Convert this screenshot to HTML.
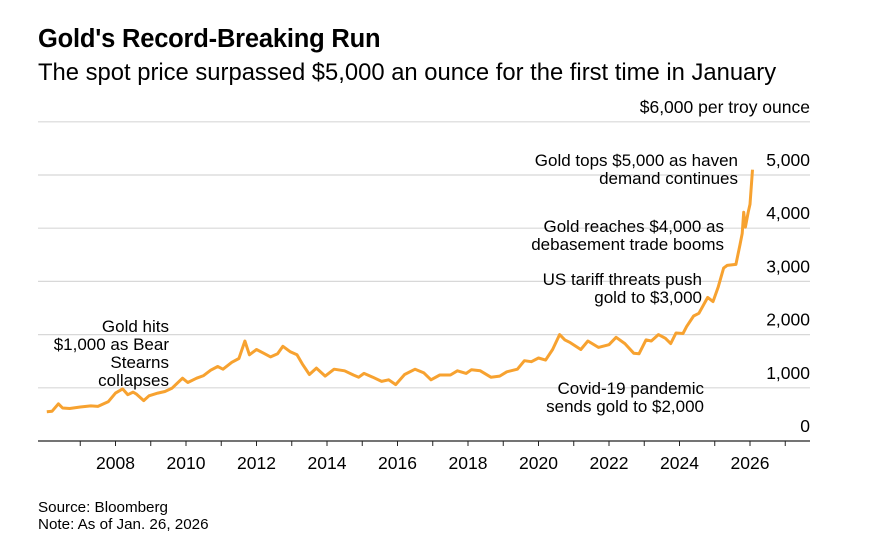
<!DOCTYPE html>
<html><head><meta charset="utf-8"><style>
body{margin:0;width:880px;height:554px;background:#fff;font-family:"Liberation Sans",sans-serif;overflow:hidden}
</style></head><body>
<svg width="880" height="554" style="position:absolute;left:0;top:0">
<text x="38" y="47" font-size="25.5" font-weight="bold" letter-spacing="-0.2" fill="#000">Gold's Record-Breaking Run</text>
<text x="38" y="80" font-size="23.8" fill="#000">The spot price surpassed $5,000 an ounce for the first time in January</text>
<g id="grid"></g>
<g id="xaxis"></g>
<path id="line" fill="none" stroke="#f7a230" stroke-width="3" stroke-linejoin="round"/>
<g font-size="17" fill="#000" text-anchor="end">
<text x="738" y="166"><tspan x="738">Gold tops $5,000 as haven</tspan><tspan x="738" dy="18">demand continues</tspan></text>
<text x="724" y="232"><tspan x="724">Gold reaches $4,000 as</tspan><tspan x="724" dy="18">debasement trade booms</tspan></text>
<text x="702" y="285"><tspan x="702">US tariff threats push</tspan><tspan x="702" dy="18">gold to $3,000</tspan></text>
<text x="704" y="394"><tspan x="704">Covid-19 pandemic</tspan><tspan x="704" dy="18">sends gold to $2,000</tspan></text>
<text x="169" y="332"><tspan x="169">Gold hits</tspan><tspan x="169" dy="18">$1,000 as Bear</tspan><tspan x="169" dy="18">Stearns</tspan><tspan x="169" dy="18">collapses</tspan></text>
</g>
<text x="38" y="512" font-size="15.2" fill="#000">Source: Bloomberg</text>
<text x="38" y="529" font-size="15.2" fill="#000">Note: As of Jan. 26, 2026</text>
</svg>
<script>
const years=[2006.05,2006.2,2006.38,2006.5,2006.7,2007.0,2007.3,2007.5,2007.8,2008.0,2008.2,2008.35,2008.5,2008.6,2008.8,2008.95,2009.2,2009.4,2009.6,2009.9,2010.05,2010.3,2010.5,2010.7,2010.9,2011.05,2011.3,2011.5,2011.67,2011.8,2012.0,2012.2,2012.4,2012.6,2012.75,2012.95,2013.15,2013.3,2013.5,2013.7,2013.95,2014.2,2014.5,2014.75,2014.9,2015.05,2015.3,2015.55,2015.75,2015.95,2016.2,2016.5,2016.75,2016.95,2017.2,2017.5,2017.7,2017.95,2018.1,2018.35,2018.65,2018.9,2019.1,2019.4,2019.6,2019.8,2020.0,2020.2,2020.4,2020.6,2020.75,2020.9,2021.2,2021.4,2021.7,2022.0,2022.2,2022.45,2022.7,2022.85,2023.05,2023.2,2023.4,2023.6,2023.75,2023.9,2024.1,2024.2,2024.4,2024.55,2024.8,2024.95,2025.1,2025.25,2025.35,2025.6,2025.72,2025.78,2025.82,2025.87,2025.95,2026.0,2026.07];
const prices=[550,560,700,620,610,640,660,650,740,900,980,870,920,880,760,850,900,930,990,1180,1100,1180,1230,1330,1400,1350,1480,1550,1880,1620,1720,1650,1580,1640,1780,1680,1620,1450,1250,1370,1220,1350,1320,1240,1200,1270,1200,1120,1150,1060,1250,1350,1280,1150,1240,1240,1320,1270,1340,1320,1200,1220,1300,1350,1510,1490,1560,1520,1720,2000,1900,1850,1720,1880,1760,1810,1950,1830,1650,1640,1900,1880,2000,1930,1830,2030,2020,2150,2350,2400,2700,2620,2900,3250,3300,3320,3700,3900,4300,4020,4300,4450,5100];
const yTicks=[0,1000,2000,3000,4000,5000,6000];
const xTicks=[2008,2010,2012,2014,2016,2018,2020,2022,2024,2026];
const NS='http://www.w3.org/2000/svg';
const x=v=>45+(v-2006)*35.25;
const y=v=>441-v*0.0532;
const grid=document.getElementById('grid');
yTicks.forEach(t=>{
 if(t>0){const l=document.createElementNS(NS,'line');
 l.setAttribute('x1',38);l.setAttribute('x2',810);l.setAttribute('y1',y(t));l.setAttribute('y2',y(t));
 l.setAttribute('stroke','#d8d8d8');l.setAttribute('stroke-width',1.2);
 
 
 grid.appendChild(l);}
 const tx=document.createElementNS(NS,'text');
 tx.setAttribute('x',810);tx.setAttribute('y',y(t)-9);tx.setAttribute('text-anchor','end');tx.setAttribute('font-size','17.5');
 tx.textContent=t===6000?'$6,000 per troy ounce':t.toLocaleString('en-US');
 
 
 grid.appendChild(tx);
});
const xa=document.getElementById('xaxis');
const base=document.createElementNS(NS,'line');
base.setAttribute('x1',38);base.setAttribute('x2',810);base.setAttribute('y1',441);base.setAttribute('y2',441);base.setAttribute('stroke','#222');base.setAttribute('stroke-width',1.3);


xa.appendChild(base);
for(let yr=2007;yr<=2027;yr++){
 const t=document.createElementNS(NS,'line');
 t.setAttribute('x1',x(yr));t.setAttribute('x2',x(yr));t.setAttribute('y1',441);t.setAttribute('y2',446);t.setAttribute('stroke','#222');
 
 
 xa.appendChild(t);
}
xTicks.forEach(yr=>{
 const tx=document.createElementNS(NS,'text');
 tx.setAttribute('x',x(yr));tx.setAttribute('y',469);tx.setAttribute('text-anchor','middle');tx.setAttribute('font-size','17.5');
 tx.textContent=yr;
 
 
 xa.appendChild(tx);
});
document.getElementById('line').setAttribute('d',years.map((v,i)=>(i?'L':'M')+x(v).toFixed(1)+','+y(prices[i]).toFixed(1)).join(''));
</script>
</body></html>
